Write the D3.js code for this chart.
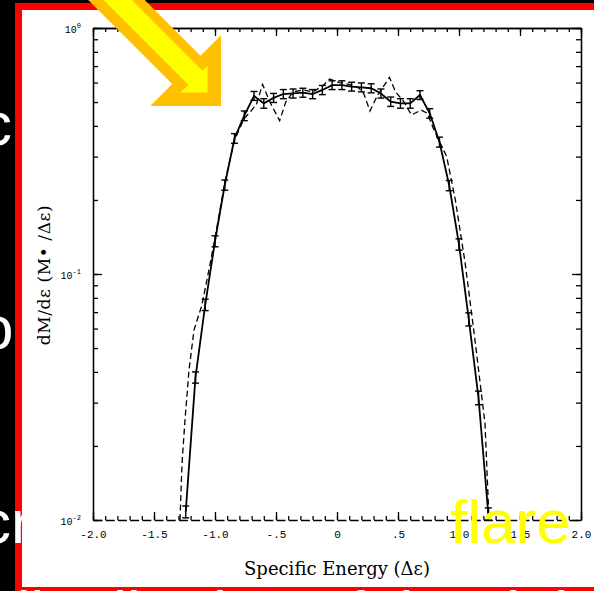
<!DOCTYPE html>
<html>
<head>
<meta charset="utf-8">
<script src="https://cdn.jsdelivr.net/npm/d3@7/dist/d3.min.js"></script>
<style>
  html, body { margin: 0; padding: 0; background: #000; }
  svg { display: block; }
</style>
</head>
<body>
<svg id="chart" width="594" height="591"></svg>
<script>
// binned mass per unit specific energy (solid line, with error bars)
const energyBins = [-1.24, -1.16, -1.08, -1.00, -0.92, -0.84, -0.76, -0.68, -0.60, -0.52, -0.44, -0.36,
  -0.28, -0.20, -0.12, -0.04, 0.04, 0.12, 0.20, 0.28, 0.36, 0.44, 0.52, 0.60, 0.68, 0.76, 0.84, 0.92,
  1.00, 1.08, 1.16, 1.24];
const massSolid = [0.0108, 0.038, 0.075, 0.136, 0.23, 0.356, 0.44, 0.53, 0.494, 0.52, 0.539, 0.542,
  0.546, 0.539, 0.56, 0.586, 0.586, 0.578, 0.574, 0.569, 0.542, 0.502, 0.494, 0.494, 0.534, 0.45, 0.344, 0.229,
  0.132, 0.0655, 0.0314, 0.0106];
const massError = [0.0006, 0.002, 0.004, 0.007, 0.011, 0.016, 0.02, 0.022, 0.022, 0.022, 0.023, 0.023,
  0.023, 0.023, 0.024, 0.024, 0.024, 0.024, 0.024, 0.024, 0.023, 0.022, 0.022, 0.022, 0.022, 0.02, 0.016, 0.011,
  0.007, 0.004, 0.002, 0.0006];

// second run (dashed line)
const energyDashed = [-1.287, -1.270, -1.246, -1.213, -1.172, -1.107, -1.04, -1.00, -0.92, -0.84, -0.76, -0.72,
  -0.66, -0.61, -0.55, -0.47, -0.42, -0.36, -0.28, -0.20, -0.12, -0.06, 0.02, 0.10, 0.18, 0.22, 0.27, 0.33,
  0.43, 0.48, 0.55, 0.61, 0.69, 0.74, 0.80, 0.899, 0.97, 1.049, 1.126, 1.213, 1.246];
const massDashed = [0.0100, 0.0171, 0.0255, 0.0407, 0.0592, 0.0748, 0.11, 0.14, 0.235, 0.35, 0.43, 0.45,
  0.49, 0.59, 0.50, 0.42, 0.50, 0.55, 0.56, 0.55, 0.58, 0.62, 0.60, 0.59, 0.57, 0.54, 0.46, 0.53,
  0.63, 0.55, 0.50, 0.443, 0.464, 0.45, 0.38, 0.30, 0.20, 0.112, 0.0565, 0.0247, 0.0100];

const xMajorTicks = [-2, -1.5, -1, -0.5, 0, 0.5, 1, 1.5, 2];
const xTickLabels = ["-2.0", "-1.5", "-1.0", "-.5", "0", ".5", "1.0", "1.5", "2.0"];
const yMajorTicks = [1, 0.1, 0.01];
const yTickExponents = ["0", "-1", "-2"];

const width = 594, height = 591;
const plot = { left: 93, right: 581, top: 28, bottom: 520 };

const svg = d3.select("#chart");

// slide behind the chart picture
svg.append("rect").attr("width", width).attr("height", height).attr("fill", "#000");
svg.append("rect")
  .attr("x", 18.5).attr("y", 6.5)
  .attr("width", 620).attr("height", 584)
  .attr("fill", "none").attr("stroke", "#ff0000").attr("stroke-width", 7);

const slideText = svg.append("g")
  .attr("fill", "#fff")
  .attr("font-family", "Liberation Sans, Arial, sans-serif")
  .attr("font-size", 62);
slideText.append("text").attr("x", -19).attr("y", 145).text("c");
slideText.append("text").attr("x", -21).attr("y", 349).text("o");
slideText.append("text").attr("x", -20).attr("y", 543).text("cr");
slideText.append("text").attr("x", -4).attr("y", 634).text("distribution of the debris energy");

// the chart picture itself
const chart = svg.append("g");
chart.append("rect").attr("x", 22).attr("y", 10).attr("width", 572).attr("height", 577).attr("fill", "#fff");

const x = d3.scaleLinear().domain([-2, 2]).range([plot.left, plot.right]);
const y = d3.scaleLog().domain([0.01, 1]).range([plot.bottom, plot.top]);

const xMinor = d3.range(-20, 21).map(d => d / 10);
const yMinor = y.ticks();

function addAxis(axis, tx, ty) {
  const g = chart.append("g").attr("transform", `translate(${tx},${ty})`).call(axis);
  g.selectAll("path, line").attr("stroke", "#000").attr("stroke-width", 1.3);
  g.selectAll("text").attr("fill", "#000").attr("font-family", "Liberation Mono, monospace").attr("font-size", 11);
  return g;
}

// inward pointing ticks on all four sides
addAxis(d3.axisBottom(x).tickValues(xMinor).tickSize(-4).tickSizeOuter(0).tickFormat(""), 0, plot.bottom)
  .select(".domain").attr("stroke-dasharray", "9 3.2");
addAxis(d3.axisBottom(x).tickValues(xMajorTicks).tickSize(-8).tickSizeOuter(0).tickPadding(10)
  .tickFormat((d, i) => xTickLabels[i]), 0, plot.bottom).select(".domain").remove();
addAxis(d3.axisTop(x).tickValues(xMinor).tickSize(-4).tickSizeOuter(0).tickFormat(""), 0, plot.top);
addAxis(d3.axisTop(x).tickValues(xMajorTicks).tickSize(-8).tickSizeOuter(0).tickFormat(""), 0, plot.top);
addAxis(d3.axisLeft(y).tickValues(yMinor).tickSize(-5).tickSizeOuter(0).tickFormat(""), plot.left, 0);
addAxis(d3.axisLeft(y).tickValues(yMajorTicks).tickSize(-9).tickSizeOuter(0).tickFormat(""), plot.left, 0);
addAxis(d3.axisRight(y).tickValues(yMinor).tickSize(-5).tickSizeOuter(0).tickFormat(""), plot.right, 0);
addAxis(d3.axisRight(y).tickValues(yMajorTicks).tickSize(-9).tickSizeOuter(0).tickFormat(""), plot.right, 0);

// y labels as 10 with a superscript exponent
const yLabels = chart.selectAll(".ylabel")
  .data(yMajorTicks)
  .join("text")
  .attr("class", "ylabel")
  .attr("x", plot.left - 12)
  .attr("y", d => y(d) + 5)
  .attr("text-anchor", "end")
  .attr("font-family", "Liberation Mono, monospace")
  .attr("font-size", 10)
  .text("10");
yLabels.append("tspan")
  .attr("dy", -5)
  .attr("font-size", 7)
  .text((d, i) => yTickExponents[i]);

// axis titles
chart.append("text")
  .attr("x", (plot.left + plot.right) / 2)
  .attr("y", 575)
  .attr("text-anchor", "middle")
  .attr("font-family", "DejaVu Serif, serif")
  .attr("font-size", 18)
  .text("Specific Energy (Δε)");
chart.append("text")
  .attr("transform", "translate(50,275) rotate(-90)")
  .attr("text-anchor", "middle")
  .attr("font-family", "DejaVu Serif, serif")
  .attr("font-size", 17)
  .attr("letter-spacing", 0.6)
  .text("dM/dε  (M• /Δε)");

// data lines
const plotArea = chart.append("g");
const line = d3.line().x(d => x(d[0])).y(d => y(d[1]));

plotArea.append("path")
  .datum(d3.zip(energyDashed, massDashed))
  .attr("d", line)
  .attr("fill", "none")
  .attr("stroke", "#000")
  .attr("stroke-width", 1.3)
  .attr("stroke-dasharray", "6 3.5");

plotArea.append("path")
  .datum(d3.zip(energyBins, massSolid))
  .attr("d", line)
  .attr("fill", "none")
  .attr("stroke", "#000")
  .attr("stroke-width", 1.8);

const bars = plotArea.selectAll(".errbar")
  .data(d3.zip(energyBins, massSolid, massError))
  .join("g")
  .attr("class", "errbar")
  .attr("stroke", "#000")
  .attr("stroke-width", 1.4);
bars.append("line")
  .attr("x1", d => x(d[0])).attr("x2", d => x(d[0]))
  .attr("y1", d => y(d[1] - d[2])).attr("y2", d => y(d[1] + d[2]));
bars.append("line")
  .attr("x1", d => x(d[0]) - 3.5).attr("x2", d => x(d[0]) + 3.5)
  .attr("y1", d => y(d[1] + d[2])).attr("y2", d => y(d[1] + d[2]));
bars.append("line")
  .attr("x1", d => x(d[0]) - 3.5).attr("x2", d => x(d[0]) + 3.5)
  .attr("y1", d => y(d[1] - d[2])).attr("y2", d => y(d[1] - d[2]));

// highlight arrow drawn over the slide
const arrow = svg.append("g").attr("transform", "translate(221,106) rotate(45)");
arrow.append("polygon")
  .attr("points", "0,0 -50,-50 -50,-21 -220,-21 -220,19 -50,19 -50,50")
  .attr("fill", "#ffc000");
arrow.append("polygon")
  .attr("points", "-19,0 -38,-19 -38,-12 -220,-12 -220,8 -38,8 -38,19")
  .attr("fill", "#ffff00");

svg.append("text")
  .attr("x", 450)
  .attr("y", 543)
  .attr("fill", "#ffff00")
  .attr("font-family", "Liberation Sans, Arial, sans-serif")
  .attr("font-size", 62)
  .text("flare");
</script>
</body>
</html>
